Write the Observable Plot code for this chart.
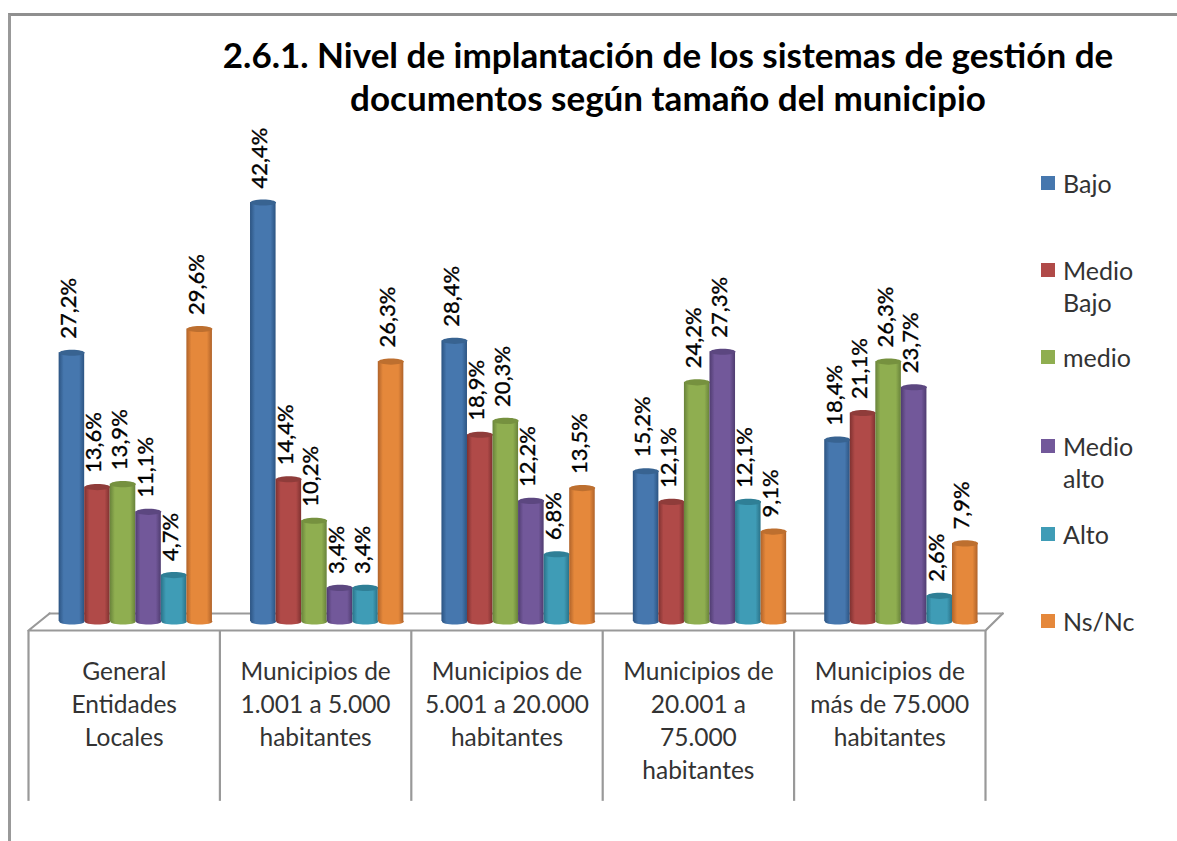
<!DOCTYPE html>
<html lang="es">
<head>
<meta charset="utf-8">
<script src="https://cdn.jsdelivr.net/npm/d3@7"></script>
<script src="https://cdn.jsdelivr.net/npm/@observablehq/plot@0.6"></script>
<style>
html,body{margin:0;padding:0;background:#fff;width:1177px;height:841px;overflow:hidden;font-family:Lato,"Open Sans",sans-serif}
#chart{position:absolute;left:0;top:0}
#frame{position:absolute;left:8px;top:13px;right:0;bottom:0;border-left:3px solid #999;border-top:3px solid #8f8f8f}
h1{position:absolute;left:168px;width:1000px;top:33px;margin:0;text-align:center;font-size:35px;line-height:43px;font-weight:700;color:#000}
.leg{position:absolute;left:1041px;font-size:25px;line-height:32px;color:#333}
.leg i{position:absolute;left:0;top:9px;width:14px;height:14px}
.leg span{display:block;margin-left:22px;white-space:pre-line}
</style>
</head>
<body>
<div id="frame"></div>
<div id="chart"></div>
<h1>2.6.1. Nivel de implantación de los sistemas de gestión de<br>documentos según tamaño del municipio</h1>
<div id="legend"></div>
<script>
const categories = ["General\nEntidades\nLocales","Municipios de\n1.001 a 5.000\nhabitantes","Municipios de\n5.001 a 20.000\nhabitantes","Municipios de\n20.001 a\n75.000\nhabitantes","Municipios de\nmás de 75.000\nhabitantes"];
const seriesNames = ["Bajo","Medio\nBajo","medio","Medio\nalto","Alto","Ns/Nc"];
const bajo = [27.2,42.4,28.4,15.2,18.4];
const medioBajo = [13.6,14.4,18.9,12.1,21.1];
const medio = [13.9,10.2,20.3,24.2,26.3];
const medioAlto = [11.1,3.4,12.2,27.3,23.7];
const alto = [4.7,3.4,6.8,12.1,2.6];
const nsNc = [29.6,26.3,13.5,9.1,7.9];
const seriesValues = [bajo,medioBajo,medio,medioAlto,alto,nsNc];
const mainColors = ["#4677ae","#b04a48","#8fae50","#72589a","#3f9cb6","#e5883b"];
const edgeColors = ["#2c5482","#7f3130","#68823a","#4f3c70","#2a7288","#b0632a"];
const capColors = ["#386391","#8f3c3a","#76913f","#5c4780","#2f7f96","#bd6f2f"];
const legendRows = [167,254,341,430,518,605];

const groupOffset = 0.16, barStep = 0.1335;
const rows = seriesValues.flatMap((vals,s)=>vals.map((v,c)=>({c,s,v,x1:c+groupOffset+s*barStep,x2:c+groupOffset+(s+1)*barStep})));
const ellipse = {draw(ctx,size){
  const rx=Math.sqrt(size/Math.PI), ry=rx*0.24, k=0.5523;
  ctx.moveTo(-rx,0);
  ctx.bezierCurveTo(-rx,-ry*k,-rx*k,-ry,0,-ry);
  ctx.bezierCurveTo(rx*k,-ry,rx,-ry*k,rx,0);
  ctx.bezierCurveTo(rx,ry*k,rx*k,ry,0,ry);
  ctx.bezierCurveTo(-rx*k,ry,-rx,ry*k,-rx,0);
  ctx.closePath();
}};
const defs = () => {
  const ns="http://www.w3.org/2000/svg";
  const d=document.createElementNS(ns,"defs");
  mainColors.forEach((m,i)=>{
    const g=document.createElementNS(ns,"linearGradient");
    g.setAttribute("id","cyl"+i);
    [[0,edgeColors[i]],[0.2,m],[0.8,m],[1,edgeColors[i]]].forEach(([o,c])=>{
      const st=document.createElementNS(ns,"stop");
      st.setAttribute("offset",o);st.setAttribute("stop-color",c);g.appendChild(st);
    });
    d.appendChild(g);
  });
  return d;
};
const frameColor="#999999";
const floorFront=-0.91, floorBack=0.81, floorSkew=0.09, floorLeft=0.11;
const barMarks = mainColors.flatMap((_,i)=>{
  const data=rows.filter(r=>r.s===i);
  const mid=d=>(d.x1+d.x2)/2;
  return [
    Plot.dot(data,{x:mid,y:()=>0,r:12.8,symbol:ellipse,fill:`url(#cyl${i})`,stroke:"none"}),
    Plot.rectY(data,{x1:"x1",x2:"x2",y1:()=>0,y2:"v",fill:`url(#cyl${i})`}),
    Plot.dot(data,{x:mid,y:"v",r:12.8,symbol:ellipse,fill:capColors[i],stroke:"none"})
  ];
});
const chart = Plot.plot({
  width:1177,height:841,margin:0,
  x:{type:"linear",domain:[0,5],range:[28,985],axis:null},
  y:{type:"linear",domain:[0,42.4],range:[621,202],axis:null},
  marks:[
    defs,
    Plot.line([[floorLeft,floorBack],[0,floorFront],[5,floorFront],[5+floorSkew,floorBack]],{stroke:frameColor,strokeWidth:2.2}),
    Plot.line([[floorLeft,floorBack],[5+floorSkew,floorBack]],{stroke:frameColor,strokeWidth:2.2}),
    Plot.ruleX(d3.range(6),{y1:floorFront,y2:-18.2,stroke:frameColor,strokeWidth:2.2}),
    ...barMarks,
    Plot.text(rows,{x:d=>(d.x1+d.x2)/2,y:"v",text:d=>d3.format(".1f")(d.v).replace(".",",")+"%",rotate:-90,textAnchor:"start",lineAnchor:"middle",dx:-3,dy:-14,fontSize:22,fill:"#000",fontFamily:"Lato",stroke:"#000",strokeWidth:0.35}),
    Plot.text(categories,{x:(d,i)=>i+0.5,y:()=>-3.55,text:d=>d,lineAnchor:"top",lineHeight:1.35,fontSize:24.5,fill:"#333",fontFamily:"Lato"})
  ]
});
document.getElementById("chart").appendChild(chart);
const legend=document.getElementById("legend");
seriesNames.forEach((n,i)=>{
  const el=document.createElement("div");
  el.className="leg";el.style.top=legendRows[i]+"px";
  const sw=document.createElement("i");sw.style.background=mainColors[i];
  const sp=document.createElement("span");sp.textContent=n;
  el.append(sw,sp);legend.appendChild(el);
});
</script>
</body>
</html>
